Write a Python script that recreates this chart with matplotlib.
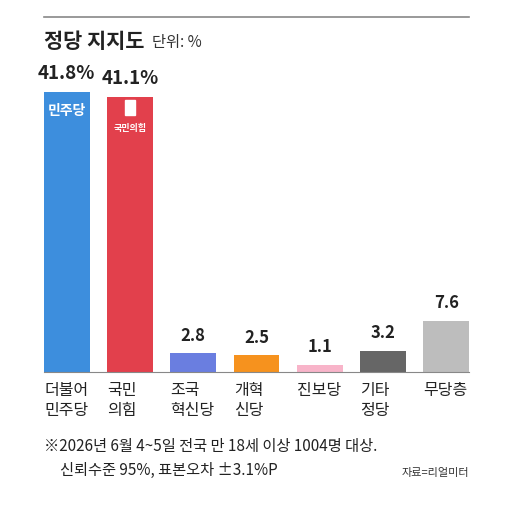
import matplotlib
matplotlib.use("Agg")
import matplotlib.pyplot as plt
from matplotlib.lines import Line2D

plt.rcParams['font.family'] = ['Noto Sans CJK KR', 'DejaVu Sans']

categories = ["더불어\n민주당", "국민\n의힘", "조국\n혁신당", "개혁\n신당", "진보당", "기타\n정당", "무당층"]
values = [41.8, 41.1, 2.8, 2.5, 1.1, 3.2, 7.6]
value_labels = ["41.8%", "41.1%", "2.8", "2.5", "1.1", "3.2", "7.6"]
colors = ["#3D8EDD", "#E2404C", "#6A7EE0", "#F6921E", "#F8B4C9", "#666666", "#BDBDBD"]

W, H = 528, 507
fig = plt.figure(figsize=(W/100, H/100), dpi=100)
ax = fig.add_axes([44/W, 1-372/H, 425/W, 335/H])
x = list(range(len(values)))
ax.bar(x, values, width=0.72, color=colors)
ax.set_xlim(-0.36, 6.36)
ax.set_ylim(0, 50)
ax.axis('off')
for i, (v, lab) in enumerate(zip(values, value_labels)):
    ax.text(i, v + 1.3, lab, ha='center', va='bottom', fontsize=13.5 if i < 2 else 12,
            fontweight='bold', color='#222222')
for i, c in enumerate(categories):
    ax.text(i - 0.36, -1.5, c, ha='left', va='top',
            fontsize=11.5, color='#222222', linespacing=1.2)
# party logos
ax.text(0, 39.0, "민주당", ha='center', va='center', fontsize=10, fontweight='bold', color='white')
ax.text(1, 36.3, "국민의힘", ha='center', va='center', fontsize=6.5, fontweight='bold', color='white')
ax.add_patch(plt.Rectangle((0.92, 38.3), 0.16, 2.3, color='white'))

fig.add_artist(Line2D([44/W, 469/W], [1-17/H, 1-17/H], color='#888888', lw=1.2))
fig.add_artist(Line2D([44/W, 469/W], [1-372/H, 1-372/H], color='#888888', lw=0.8))
fig.text(44/W, 1-42/H, "정당 지지도", fontsize=15, fontweight='bold', color='#222222', va='center')
fig.text(152/W, 1-42/H, "단위: %", fontsize=11, color='#333333', va='center')
fig.text(44/W, 1-446/H, "※2026년 6월 4~5일 전국 만 18세 이상 1004명 대상.", fontsize=11, color='#222222', va='center')
fig.text(60/W, 1-470/H, "신뢰수준 95%, 표본오차 ±3.1%P", fontsize=11, color='#222222', va='center')
fig.text(469/W, 1-473/H, "자료=리얼미터", fontsize=8, color='#333333', va='center', ha='right')
fig.savefig("out.png", dpi=100, facecolor='white')
